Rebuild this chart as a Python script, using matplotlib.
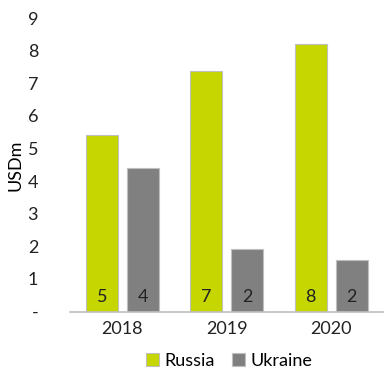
import matplotlib
matplotlib.use("Agg")
import matplotlib.pyplot as plt
import numpy as np

years = ["2018", "2019", "2020"]
russia = [5.43, 7.38, 8.2]
ukraine = [4.41, 1.93, 1.59]
russia_labels = ["5", "7", "8"]
ukraine_labels = ["4", "2", "2"]

GREEN = "#c5d600"
GREY = "#808080"
EDGE = "#bfbfbf"

plt.rcParams["font.family"] = ["Lato", "DejaVu Sans"]
plt.rcParams["font.size"] = 13

fig = plt.figure(figsize=(3.85, 3.7), dpi=100)
ax = fig.add_axes([0.182, 0.158, 0.814, 0.793])

x = np.arange(len(years))
w = 0.31
off = 0.196
b1 = ax.bar(x - off, russia, w, color=GREEN, edgecolor=EDGE, lw=0.8,
            label="Russia")
b2 = ax.bar(x + off, ukraine, w, color=GREY, edgecolor=EDGE, lw=0.8,
            label="Ukraine")
for xi, lab in zip(x - off, russia_labels):
    ax.text(xi, 0.45, lab, ha="center", va="center", color="#222222")
for xi, lab in zip(x + off, ukraine_labels):
    ax.text(xi, 0.45, lab, ha="center", va="center", color="#222222")

ax.set_xlim(-0.5, 2.5)
ax.set_ylim(0, 9)
ax.set_yticks(range(10))
ax.set_yticklabels(["-"] + [str(i) for i in range(1, 10)])
ax.set_xticks(x)
ax.set_xticklabels(years)
ax.tick_params(axis="both", length=0, colors="#222222")
ax.tick_params(axis="y", pad=23)
ax.tick_params(axis="x", pad=7)
for s in ["top", "right", "left"]:
    ax.spines[s].set_visible(False)
ax.spines["bottom"].set_color(EDGE)
ax.spines["bottom"].set_linewidth(1.2)
ax.set_ylabel("USDm", labelpad=3)

fig.legend(handles=[b1, b2], loc="center", bbox_to_anchor=(0.595, 0.024),
           ncol=2, frameon=False, handlelength=0.7, handleheight=0.7,
           handletextpad=0.3, columnspacing=1.0, borderaxespad=0)

fig.savefig("out.png", dpi=100)
